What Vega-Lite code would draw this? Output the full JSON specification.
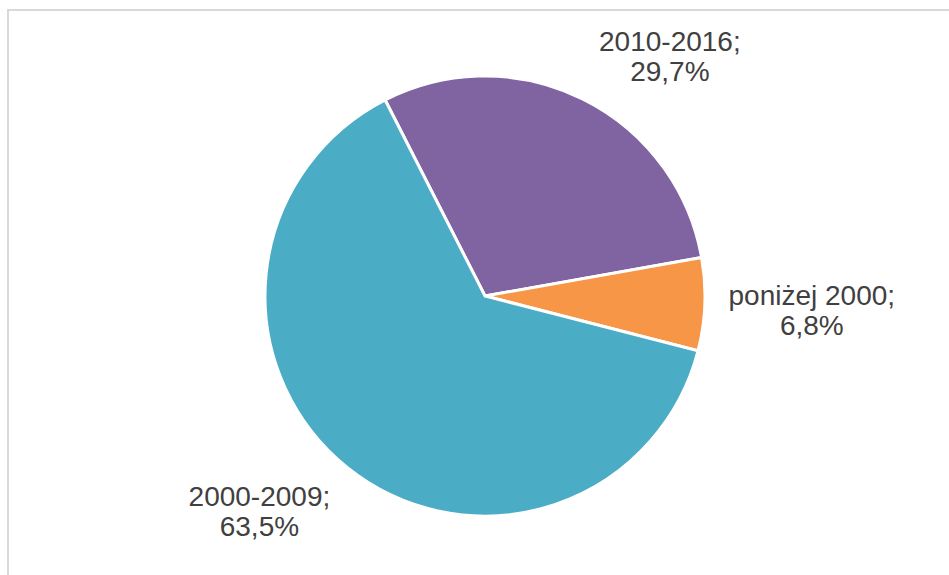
{
  "$schema": "https://vega.github.io/schema/vega-lite/v6.json",
  "width": 949,
  "height": 575,
  "autosize": {"type": "fit", "contains": "padding"},
  "padding": {"left": 7, "top": 9, "right": -14, "bottom": -8},
  "background": "white",
  "config": {"view": {"stroke": null}},
  "data": {
    "values": [
      {"okres": "2010-2016", "udzial": 29.7, "nr": 1, "etykieta": "2010-2016;\n29,7%"},
      {"okres": "poniżej 2000", "udzial": 6.8, "nr": 2, "etykieta": "poniżej 2000;\n6,8%"},
      {"okres": "2000-2009", "udzial": 63.5, "nr": 3, "etykieta": "2000-2009;\n63,5%"}
    ]
  },
  "transform": [
    {"stack": "udzial", "groupby": [], "sort": [{"field": "nr", "order": "ascending"}], "as": ["s0", "s1"]},
    {"calculate": "(datum.s0 + datum.s1) / 2", "as": "mid"}
  ],
  "layer": [
    {
      "transform": [{"filter": "datum.nr === 1"}],
      "mark": {"type": "rect", "fill": null, "stroke": "#d9d9d9", "strokeWidth": 2},
      "encoding": {}
    },
    {
      "mark": {"type": "arc", "outerRadius": 220, "stroke": "white", "strokeWidth": 3},
      "encoding": {
        "theta": {"field": "s0", "type": "quantitative", "scale": {"domain": [0, 100], "range": [-0.4712, 5.812]}},
        "theta2": {"field": "s1"},
        "color": {
          "field": "okres",
          "type": "nominal",
          "scale": {"domain": ["2010-2016", "poniżej 2000", "2000-2009"], "range": ["#8064A2", "#F79646", "#4BACC6"]},
          "legend": null
        }
      }
    },
    {
      "transform": [{"filter": "datum.nr === 1"}],
      "mark": {"type": "text", "radius": 260, "dx": 69, "dy": -20, "fontSize": 28, "font": "Liberation Sans", "color": "#404040", "lineBreak": "\n", "lineHeight": 30, "align": "center", "baseline": "middle"},
      "encoding": {
        "theta": {"field": "mid", "type": "quantitative", "scale": {"domain": [0, 100], "range": [-0.4712, 5.812]}},
        "text": {"field": "etykieta"}
      }
    },
    {
      "transform": [{"filter": "datum.nr === 2"}],
      "mark": {"type": "text", "radius": 260, "dx": 67, "dy": -9, "fontSize": 28, "font": "Liberation Sans", "color": "#404040", "lineBreak": "\n", "lineHeight": 30, "align": "center", "baseline": "middle"},
      "encoding": {
        "theta": {"field": "mid", "type": "quantitative", "scale": {"domain": [0, 100], "range": [-0.4712, 5.812]}},
        "text": {"field": "etykieta"}
      }
    },
    {
      "transform": [{"filter": "datum.nr === 3"}],
      "mark": {"type": "text", "radius": 260, "dx": -63, "dy": -1, "fontSize": 28, "font": "Liberation Sans", "color": "#404040", "lineBreak": "\n", "lineHeight": 30, "align": "center", "baseline": "middle"},
      "encoding": {
        "theta": {"field": "mid", "type": "quantitative", "scale": {"domain": [0, 100], "range": [-0.4712, 5.812]}},
        "text": {"field": "etykieta"}
      }
    }
  ]
}
